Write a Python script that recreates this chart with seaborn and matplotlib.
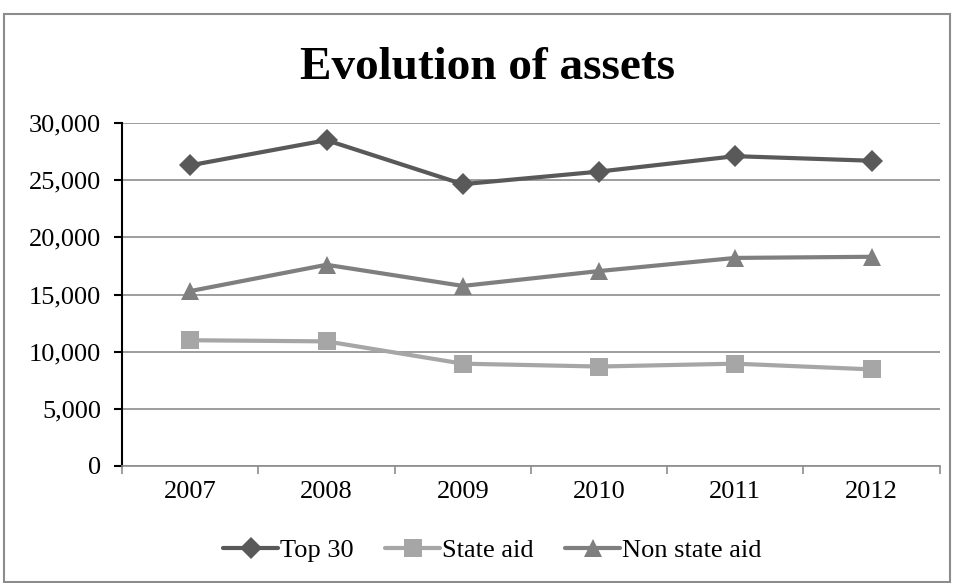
import matplotlib.pyplot as plt
from matplotlib.patches import Rectangle
from matplotlib.ticker import FuncFormatter
import seaborn as sns
import pandas as pd

# data
anos = ["2007", "2008", "2009", "2010", "2011", "2012"]
top30 = [26300, 28500, 24650, 25750, 27100, 26700]
state_aid = [11000, 10900, 8950, 8700, 8950, 8450]
non_state_aid = [15300, 17600, 15750, 17050, 18200, 18300]

series = ["Top 30", "State aid", "Non state aid"]

df = pd.DataFrame({
    "ano": anos * 3,
    "valor": top30 + state_aid + non_state_aid,
    "serie": [series[0]] * 6 + [series[1]] * 6 + [series[2]] * 6,
})

sns.set_style("white")
plt.rcParams["font.family"] = ["Liberation Serif", "DejaVu Serif"]
plt.rcParams["text.color"] = "black"

cores = {"Top 30": "#595959", "State aid": "#a6a6a6", "Non state aid": "#7f7f7f"}
marcadores = {"Top 30": "D", "State aid": "s", "Non state aid": "^"}
tamanhos = {"Top 30": 11, "State aid": 13, "Non state aid": 13}

fig = plt.figure(figsize=(9.54, 5.83), dpi=100)
ax = fig.add_axes([0.128, 0.2007, 0.857, 0.5883])

sns.lineplot(data=df, x="ano", y="valor", hue="serie", style="serie",
             palette=cores, markers=marcadores, dashes=False,
             linewidth=3, markersize=12, markeredgewidth=0, ax=ax, legend=False)

# ajustar tamanhos dos marcadores
for linha, s in zip(ax.lines, series):
    linha.set_markersize(tamanhos[s])

ax.set_xlim(-0.5, 5.5)
ax.set_ylim(0, 30000)
ax.set_yticks(range(0, 30001, 5000))
ax.yaxis.set_major_formatter(FuncFormatter(lambda v, p: f"{int(v):,}"))
ax.set_xlabel("")
ax.set_ylabel("")

ax.grid(axis="y", color="#8c8c8c", linewidth=1.2)
ax.set_axisbelow(True)
for lado in ["top", "right"]:
    ax.spines[lado].set_visible(False)
ax.spines["left"].set_color("black")
ax.spines["left"].set_linewidth(1.5)
ax.spines["bottom"].set_color("#8c8c8c")
ax.spines["bottom"].set_linewidth(1.2)

ax.tick_params(axis="y", direction="out", length=6, width=1.5, color="black",
               left=True, labelsize=19, pad=9, labelcolor="black")
ax.tick_params(axis="x", which="major", length=0, labelsize=19, pad=11,
               labelcolor="black")
ax.set_xticks([i + 0.5 for i in range(-1, 6)], minor=True)
ax.tick_params(axis="x", which="minor", direction="out", length=6, width=1.2,
               color="#8c8c8c", bottom=True)

fig.text(488 / 954, 1 - 79 / 583, "Evolution of assets", ha="center",
         va="baseline", fontsize=34, fontweight="bold", color="black")

# legenda
handles = [plt.Line2D([], [], color=cores[s], marker=marcadores[s], linewidth=3,
                      markersize=tamanhos[s], markeredgewidth=0) for s in series]
fig.legend(handles, series, loc="center", bbox_to_anchor=(492 / 954, 1 - 550 / 583),
           ncol=3, frameon=False, fontsize=19, handlelength=2.1,
           handletextpad=0.05, columnspacing=1.2, labelcolor="black")

# moldura exterior
fig.patches.append(Rectangle((4 / 954, 0.002), 946 / 954, 1 - 14 / 583 - 0.002,
                             transform=fig.transFigure, fill=False,
                             edgecolor="#8c8c8c", linewidth=1.5))

fig.savefig("out.png", dpi=100)
